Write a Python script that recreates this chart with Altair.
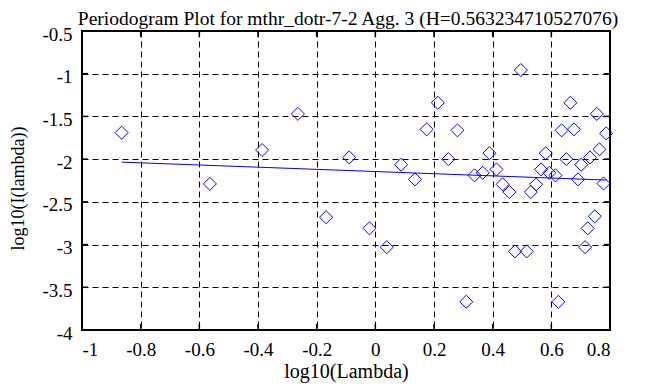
import altair as alt
import pandas as pd

# Data
log_lambda = [-0.865, -0.564, -0.386, -0.264, -0.168, -0.089, -0.020, 0.039, 0.088, 0.135,
              0.175, 0.213, 0.249, 0.280, 0.310, 0.338, 0.366, 0.389, 0.413, 0.434,
              0.457, 0.476, 0.496, 0.516, 0.530, 0.548, 0.565, 0.581, 0.593, 0.614,
              0.624, 0.635, 0.651, 0.665, 0.677, 0.691, 0.702, 0.715, 0.724, 0.732,
              0.748, 0.755, 0.764, 0.778, 0.787]
log_I = [-1.69, -2.29, -1.893, -1.47, -2.68, -1.98, -2.81, -3.03, -2.065, -2.237,
         -1.651, -1.34, -2.0, -1.663, -3.67, -2.19, -2.16, -1.93, -2.12, -2.295,
         -2.385, -3.08, -0.957, -3.08, -2.385, -2.295, -2.12, -1.93, -2.16, -2.19,
         -3.67, -1.663, -2.0, -1.34, -1.651, -2.237, -2.065, -3.03, -2.81, -1.98,
         -2.67, -1.47, -1.885, -2.285, -1.698]
fit_x = [-0.865, 0.787]
fit_y = [-2.035, -2.245]
x_ticks = [-1, -0.8, -0.6, -0.4, -0.2, 0, 0.2, 0.4, 0.6, 0.8]
y_ticks = [-4, -3.5, -3, -2.5, -2, -1.5, -1, -0.5]
title_text = ["Periodogram Plot for mthr_dotr-7-2 Agg. 3 (H=0.563234710527076)"]

W, H = 528, 299
FONT = "Liberation Serif"

pts = pd.DataFrame({"x": log_lambda, "y": log_I})
fit = pd.DataFrame({"x": fit_x, "y": fit_y})
xt = pd.DataFrame({"v": x_ticks})
yt = pd.DataFrame({"v": y_ticks})
tt = pd.DataFrame({"t": title_text})

xscale = alt.Scale(domain=[-1, 0.8], nice=False, zero=False)
yscale = alt.Scale(domain=[-4, -0.5], nice=False, zero=False)

xaxis = alt.Axis(values=x_ticks, labelPadding=10, labelExpr="'' + datum.value",
                 labelFont=FONT, labelFontSize=19,
                 title="log10(Lambda)", titlePadding=2,
                 titleFont=FONT, titleFontSize=20)
yaxis = alt.Axis(values=y_ticks, labelPadding=10, labelOffset=3,
                 labelExpr="'' + datum.value", labelFont=FONT, labelFontSize=19,
                 title="log10(I(lambda))", titleFont=FONT, titleFontSize=18,
                 titlePadding=14, titleY=157)

points = alt.Chart(pts).mark_point(shape="diamond", size=170, filled=False,
                                   color="#0000ff", strokeWidth=1, opacity=1).encode(
    x=alt.X("x:Q", scale=xscale, axis=xaxis),
    y=alt.Y("y:Q", scale=yscale, axis=yaxis),
)
line = alt.Chart(fit).mark_line(color="#0000ff", strokeWidth=1).encode(
    x=alt.X("x:Q", scale=xscale, axis=xaxis), y=alt.Y("y:Q", scale=yscale, axis=yaxis))

tick_bottom = alt.Chart(xt).mark_rule(color="black", strokeWidth=1.5).encode(
    x=alt.X("v:Q", scale=xscale, axis=xaxis), y=alt.value(H), y2=alt.value(H - 6))
tick_top = alt.Chart(xt).mark_rule(color="black", strokeWidth=1.5).encode(
    x=alt.X("v:Q", scale=xscale, axis=xaxis), y=alt.value(0), y2=alt.value(6))
tick_left = alt.Chart(yt).mark_rule(color="black", strokeWidth=1.5).encode(
    y=alt.Y("v:Q", scale=yscale, axis=yaxis), x=alt.value(0), x2=alt.value(6))
tick_right = alt.Chart(yt).mark_rule(color="black", strokeWidth=1.5).encode(
    y=alt.Y("v:Q", scale=yscale, axis=yaxis), x=alt.value(W), x2=alt.value(W - 6))

title = alt.Chart(tt).mark_text(font=FONT, fontSize=19.5, color="black",
                                baseline="alphabetic", align="center").encode(
    text="t:N", x=alt.value(W / 2 + 2), y=alt.value(-6))

chart = alt.layer(points, line, tick_bottom, tick_top, tick_left, tick_right, title).properties(
    width=W, height=H,
    background="white",
    autosize=alt.AutoSizeParams(type="none"),
    padding={"left": 74, "top": 23, "right": 30, "bottom": 56},
).configure_axis(
    grid=True, gridDash=[6, 4], gridColor="black", gridOpacity=1, gridWidth=1,
    domain=False, ticks=False,
    labelColor="black", titleFontWeight="normal", titleColor="black",
).configure_view(stroke="black", strokeWidth=2)

chart.save("out.html", embed_options={"renderer": "svg", "actions": False})
